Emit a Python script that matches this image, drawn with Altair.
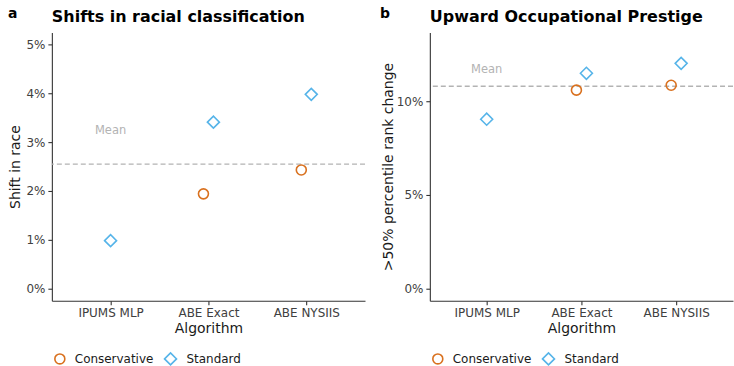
import altair as alt
import pandas as pd

# ---- data ----
algorithms = ["IPUMS MLP", "ABE Exact", "ABE NYSIIS"]
methods = ["Conservative", "Standard"]
race_conservative = [None, 1.94, 2.43]
race_standard = [0.98, 3.41, 3.98]
prestige_conservative = [None, 10.59, 10.85]
prestige_standard = [9.04, 11.49, 12.02]
race_ticks = [0, 1, 2, 3, 4, 5]
prestige_ticks = [0, 5, 10]

FONT = "DejaVu Sans"
ORANGE = "#D9711F"
BLUE = "#56B4E9"
MEAN_GREY = "#b3b3b3"


def frame(cons, std):
    rows = []
    for a, c, s in zip(algorithms, cons, std):
        if c is not None:
            rows.append({"algorithm": a, "method": "Conservative", "value": c})
        if s is not None:
            rows.append({"algorithm": a, "method": "Standard", "value": s})
    return pd.DataFrame(rows)


def legend():
    return alt.Legend(
        title=None, orient="none", legendX=2, legendY=320,
        direction="horizontal", symbolSize=110, symbolStrokeWidth=1.6,
        labelFontSize=12, labelFont=FONT, labelColor="#1a1a1a", labelOffset=9,
        columnPadding=7, padding=0, symbolFillColor="transparent",
    )


def panel(df, letter, letter_x, title, ytitle, domain, ticks, mean_dy, ytitle_pad,
          width, height):
    base = alt.Chart(df)
    xenc = alt.X(
        "algorithm:N",
        scale=alt.Scale(type="point", domain=algorithms, padding=0.6),
        axis=alt.Axis(title="Algorithm", labelAngle=0),
    )
    yaxis = alt.Axis(values=ticks, labelExpr="datum.value + '%'", title=ytitle,
                     titlePadding=ytitle_pad)
    yscale = alt.Scale(domain=domain, nice=False, zero=False)

    points = (
        base.transform_joinaggregate(n="count()", groupby=["algorithm"])
        .transform_calculate(
            off="datum.n == 1 ? 0 : (datum.method == 'Conservative' ? -1 : 1)"
        )
        .mark_point(filled=False, strokeWidth=1.6, opacity=1)
        .encode(
            x=xenc,
            y=alt.Y("value:Q", scale=yscale, axis=yaxis),
            xOffset=alt.XOffset("off:Q", scale=alt.Scale(domain=[-1, 1], range=[-5, 5])),
            color=alt.Color("method:N",
                            scale=alt.Scale(domain=methods, range=[ORANGE, BLUE]),
                            legend=legend()),
            shape=alt.Shape("method:N",
                            scale=alt.Scale(domain=methods, range=["circle", "diamond"]),
                            legend=legend()),
            size=alt.Size("method:N", scale=alt.Scale(domain=methods, range=[100, 144]),
                          legend=None),
        )
    )

    rule = base.mark_rule(strokeDash=[5, 3], color=MEAN_GREY, strokeWidth=1.3).encode(
        y=alt.Y("value:Q", aggregate="mean", scale=yscale, axis=yaxis)
    )

    mean_label = (
        base.transform_joinaggregate(mean_value="mean(value)")
        .transform_filter(alt.datum.algorithm == algorithms[0])
        .transform_aggregate(mean_value="mean(mean_value)", groupby=["algorithm"])
        .mark_text(dy=mean_dy, color=MEAN_GREY, fontSize=11.5, font=FONT)
        .encode(
            x=xenc,
            y=alt.Y("mean_value:Q", scale=yscale, axis=yaxis),
            text=alt.value("Mean"),
        )
    )

    heads = pd.DataFrame({"letter": [letter], "title": [title]})
    letter_mark = (
        alt.Chart(heads)
        .mark_text(align="left", baseline="alphabetic", fontWeight="bold", fontSize=14,
                   font=FONT, color="#000000")
        .encode(x=alt.value(letter_x), y=alt.value(-14), text="letter:N")
    )
    title_mark = (
        alt.Chart(heads)
        .mark_text(align="left", baseline="alphabetic", fontWeight="bold", fontSize=16,
                   font=FONT, color="#000000")
        .encode(x=alt.value(0), y=alt.value(-10), text="title:N")
    )

    return alt.layer(rule, mean_label, points, letter_mark, title_mark).properties(
        width=width, height=height
    )


race_df = frame(race_conservative, race_standard)
prestige_df = frame(prestige_conservative, prestige_standard)

pa = panel(race_df, "a", -44, "Shifts in racial classification", "Shift in race",
           [-0.25, 5.25], race_ticks, -33, 3, 314, 269)
pb = panel(prestige_df, "b", -50, "Upward Occupational Prestige",
           ">50% percentile rank change",
           [-0.64, 13.67], prestige_ticks, -16, 1, 304, 269)

chart = (
    alt.hconcat(pa, pb, spacing=14)
    .resolve_scale(y="independent", color="independent", shape="independent",
                   size="independent", xOffset="independent")
    .resolve_legend(color="independent", shape="independent")
    .properties(padding={"left": 8, "top": 7, "right": 0, "bottom": 0})
    .configure_view(stroke=None)
    .configure_axis(
        grid=False, domainColor="#333333", tickColor="#333333", labelColor="#404040",
        titleColor="#1a1a1a", labelFont=FONT, titleFont=FONT, labelFontSize=12,
        titleFontSize=14, titleFontWeight="normal", tickSize=4, labelPadding=3,
        domainWidth=1.1, tickWidth=1.1,
    )
    .configure_axisX(titlePadding=3)
)

chart.save("out.html", embed_options={"renderer": "svg", "actions": False})
